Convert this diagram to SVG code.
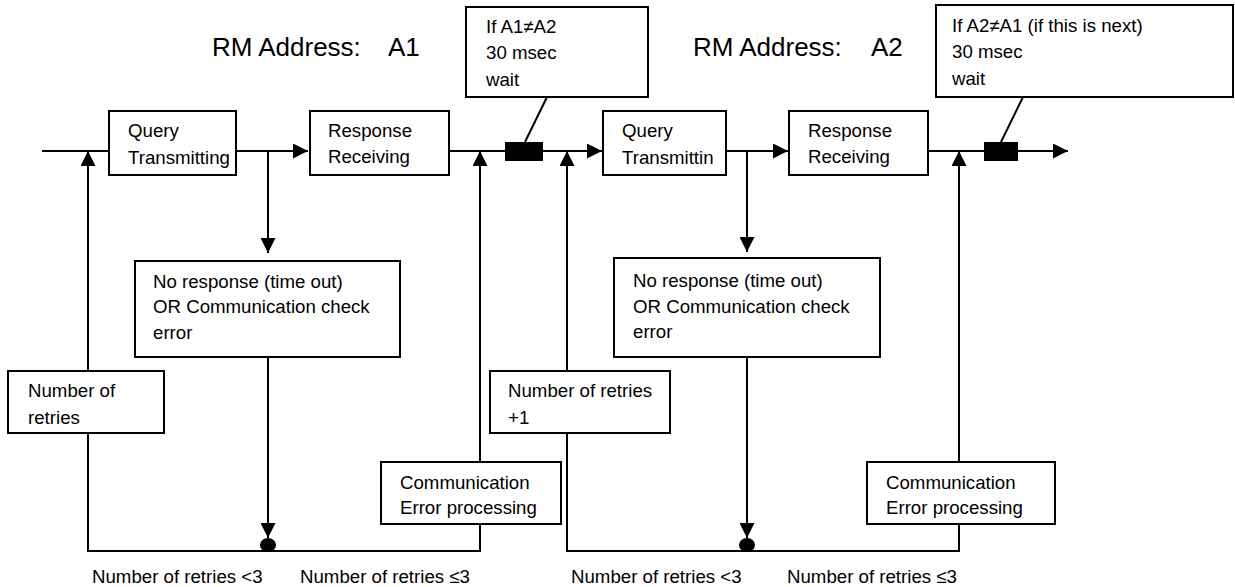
<svg xmlns="http://www.w3.org/2000/svg" width="1235" height="587" viewBox="0 0 1235 587">
<defs>
<style>
.box{fill:#fff;stroke:#000;stroke-width:2}
.ln{fill:none;stroke:#000;stroke-width:2}
.t{font-family:"Liberation Sans",Arial,sans-serif;font-size:18.67px;fill:#000}
.title{font-family:"Liberation Sans",Arial,sans-serif;font-size:26px;fill:#000}
.blk{fill:#000}
</style>
<marker id="ah" viewBox="0 0 15 15" refX="15" refY="7.5" markerWidth="15" markerHeight="15" markerUnits="userSpaceOnUse" orient="auto">
<path d="M0,0 L15,7.5 L0,15 Z" fill="#000"/>
</marker>
</defs>
<rect width="1235" height="587" fill="#fff"/>

<g id="titles">
<text class="title" x="212" y="56">RM Address:</text>
<text class="title" x="388" y="56">A1</text>
<text class="title" x="693" y="56">RM Address:</text>
<text class="title" x="871" y="56">A2</text>
</g>

<g id="connectors">
<line class="ln" x1="42" y1="151" x2="109" y2="151"/>
<line class="ln" x1="236" y1="151" x2="308" y2="151" marker-end="url(#ah)"/>
<line class="ln" x1="449" y1="151" x2="505" y2="151"/>
<line class="ln" x1="543" y1="151" x2="602" y2="151" marker-end="url(#ah)"/>
<line class="ln" x1="726" y1="151" x2="788" y2="151" marker-end="url(#ah)"/>
<line class="ln" x1="928" y1="151" x2="984" y2="151"/>
<line class="ln" x1="1018" y1="151" x2="1068" y2="151" marker-end="url(#ah)"/>
<line class="ln" x1="268" y1="151" x2="268" y2="253" marker-end="url(#ah)"/>
<line class="ln" x1="268" y1="357" x2="268" y2="538" marker-end="url(#ah)"/>
<line class="ln" x1="747" y1="151" x2="747" y2="252" marker-end="url(#ah)"/>
<line class="ln" x1="747" y1="357" x2="747" y2="538" marker-end="url(#ah)"/>
<line class="ln" x1="88" y1="371" x2="88" y2="151" marker-end="url(#ah)"/>
<line class="ln" x1="480" y1="462" x2="480" y2="151" marker-end="url(#ah)"/>
<line class="ln" x1="567" y1="371" x2="567" y2="151" marker-end="url(#ah)"/>
<line class="ln" x1="959" y1="462" x2="959" y2="151" marker-end="url(#ah)"/>
<polyline class="ln" points="88,433 88,551 480,551 480,524"/>
<polyline class="ln" points="567,433 567,551 959,551 959,524"/>
<line class="ln" x1="547" y1="97" x2="525" y2="142"/>
<line class="ln" x1="1023" y1="97" x2="1001" y2="142"/>
<ellipse class="blk" cx="268" cy="545" rx="8" ry="7"/>
<ellipse class="blk" cx="747" cy="545" rx="8" ry="7"/>
<rect class="blk" x="505" y="142" width="38" height="19"/>
<rect class="blk" x="984" y="142" width="34" height="19"/>
</g>

<g id="query1">
<rect class="box" x="109" y="111" width="127" height="64"/>
<text class="t" x="128" y="137">Query</text>
<text class="t" x="128" y="164">Transmitting</text>
</g>
<g id="response1">
<rect class="box" x="310" y="111" width="139" height="64"/>
<text class="t" x="328" y="137">Response</text>
<text class="t" x="328" y="163">Receiving</text>
</g>
<g id="wait1">
<rect class="box" x="466" y="7" width="182" height="90"/>
<text class="t" x="486" y="33">If A1≠A2</text>
<text class="t" x="486" y="59">30 msec</text>
<text class="t" x="486" y="86">wait</text>
</g>
<g id="query2">
<rect class="box" x="603" y="111" width="123" height="64"/>
<text class="t" x="622" y="137">Query</text>
<text class="t" x="622" y="164">Transmittin</text>
</g>
<g id="response2">
<rect class="box" x="789" y="111" width="139" height="64"/>
<text class="t" x="808" y="137">Response</text>
<text class="t" x="808" y="163">Receiving</text>
</g>
<g id="wait2">
<rect class="box" x="936" y="5" width="297" height="92"/>
<text class="t" x="952" y="32">If A2≠A1 (if this is next)</text>
<text class="t" x="952" y="58">30 msec</text>
<text class="t" x="952" y="85">wait</text>
</g>
<g id="noresp1">
<rect class="box" x="135" y="261" width="265" height="96"/>
<text class="t" x="153" y="288">No response (time out)</text>
<text class="t" x="153" y="313">OR Communication check</text>
<text class="t" x="153" y="339">error</text>
</g>
<g id="noresp2">
<rect class="box" x="614" y="258" width="266" height="99"/>
<text class="t" x="633" y="287">No response (time out)</text>
<text class="t" x="633" y="313">OR Communication check</text>
<text class="t" x="633" y="338">error</text>
</g>
<g id="retries1">
<rect class="box" x="8" y="371" width="156" height="62"/>
<text class="t" x="28" y="397">Number of</text>
<text class="t" x="28" y="424">retries</text>
</g>
<g id="retries2">
<rect class="box" x="490" y="371" width="180" height="62"/>
<text class="t" x="508" y="397">Number of retries</text>
<text class="t" x="508" y="424">+1</text>
</g>
<g id="commerr1">
<rect class="box" x="381" y="462" width="180" height="62"/>
<text class="t" x="400" y="489">Communication</text>
<text class="t" x="400" y="514">Error processing</text>
</g>
<g id="commerr2">
<rect class="box" x="867" y="462" width="188" height="62"/>
<text class="t" x="886" y="489">Communication</text>
<text class="t" x="886" y="514">Error processing</text>
</g>
<g id="labels">
<text class="t" x="92" y="583">Number of retries &lt;3</text>
<text class="t" x="300" y="583">Number of retries ≤3</text>
<text class="t" x="571" y="583">Number of retries &lt;3</text>
<text class="t" x="787" y="583">Number of retries ≤3</text>
</g>
</svg>
